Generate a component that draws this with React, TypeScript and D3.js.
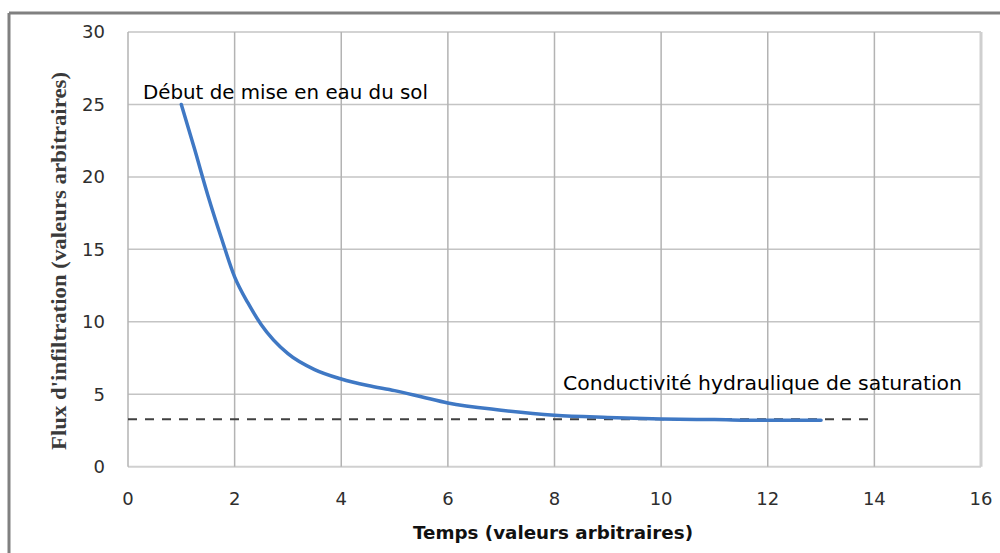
import React from 'react';
import * as d3 from 'd3';

const temps = [1, 1.25, 1.5, 1.75, 2, 2.25, 2.5, 3, 3.5, 4, 4.5, 5, 5.5, 6, 7, 8, 9, 10, 11, 12, 13];
const flux = [25, 21.9, 18.7, 15.8, 13.1, 11.3, 9.8, 7.8, 6.7, 6.05, 5.6, 5.25, 4.83, 4.4, 3.9, 3.55, 3.4, 3.3, 3.25, 3.2, 3.2];
const saturation = 3.27;
const saturationEnd = 13.9;
const xTicks = [0, 2, 4, 6, 8, 10, 12, 14, 16];
const yTicks = [0, 5, 10, 15, 20, 25, 30];

const W = 1000;
const H = 553;

export default function App() {
  const x = d3.scaleLinear().domain([0, 16]).range([128, 981]);
  const y = d3.scaleLinear().domain([0, 30]).range([466.7, 32]);

  const line = d3
    .line<number>()
    .x((_, i) => x(temps[i]))
    .y((d) => y(d))
    .curve(d3.curveMonotoneX);

  return (
    <svg width={W} height={H} style={{ position: 'absolute', left: 0, top: 0, background: '#fff' }}>
      {/* outer frame, only top and left show */}
      <line x1={9} x2={W} y1={13} y2={13} stroke="#808080" strokeWidth={3} />
      <line x1={9} x2={9} y1={13} y2={H} stroke="#808080" strokeWidth={3} />

      {/* grid */}
      {yTicks.map((t) => (
        <line key={'h' + t} x1={x(0)} x2={x(16)} y1={y(t)} y2={y(t)} stroke={t === 0 ? '#d0d0d0' : '#c4c4c4'} strokeWidth={t === 0 ? 2 : 1.5} />
      ))}
      {xTicks.map((t) => (
        <line key={'v' + t} x1={x(t)} x2={x(t)} y1={y(30)} y2={y(0)} stroke={t === 16 ? '#cfcfcf' : '#b3b3b3'} strokeWidth={t === 16 ? 3 : 1.5} />
      ))}

      {/* tick labels */}
      {yTicks.map((t) => (
        <text key={'yl' + t} x={105} y={y(t)} dy="0.36em" textAnchor="end" fontFamily="DejaVu Sans" fontSize={18} fill="#2e2e2e">
          {t}
        </text>
      ))}
      {xTicks.map((t) => (
        <text key={'xl' + t} x={x(t)} y={505} textAnchor="middle" fontFamily="DejaVu Sans" fontSize={18} fill="#2e2e2e">
          {t}
        </text>
      ))}

      {/* saturation line */}
      <line x1={x(0)} x2={x(saturationEnd)} y1={y(saturation)} y2={y(saturation)} stroke="#404040" strokeWidth={2} strokeDasharray="9 8" />

      {/* infiltration curve */}
      <path d={line(flux) || ''} fill="none" stroke="#3f78c4" strokeWidth={3.5} strokeLinecap="round" />

      {/* annotations */}
      <text x={143} y={99} fontFamily="DejaVu Sans" fontSize={19} fill="#000" textLength={285} lengthAdjust="spacingAndGlyphs">
        Début de mise en eau du sol
      </text>
      <text x={563} y={390} fontFamily="DejaVu Sans" fontSize={19} fill="#000" textLength={399} lengthAdjust="spacingAndGlyphs">
        Conductivité hydraulique de saturation
      </text>

      {/* axis titles */}
      <text x={413} y={539} fontFamily="DejaVu Sans" fontWeight="bold" fontSize={17} fill="#111" textLength={280} lengthAdjust="spacingAndGlyphs">
        Temps (valeurs arbitraires)
      </text>
      <text
        transform={`translate(66,261) rotate(-90)`}
        textAnchor="middle"
        fontFamily="Liberation Serif"
        fontWeight="bold"
        fontSize={20}
        fill="#3a3a3a"
        textLength={378}
        lengthAdjust="spacingAndGlyphs"
      >
        Flux d'infiltration (valeurs arbitraires)
      </text>
    </svg>
  );
}
